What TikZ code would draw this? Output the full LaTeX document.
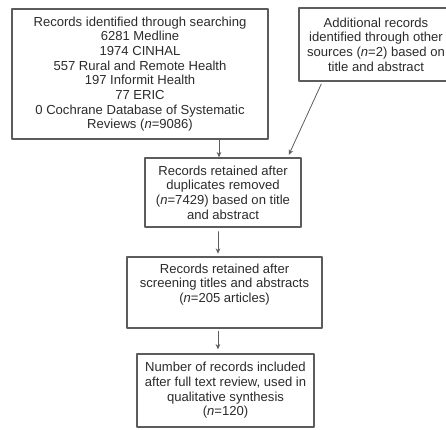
\documentclass[tikz,border=0pt]{standalone}
\usepackage{fontspec}
\setmainfont{Liberation Sans}
\usetikzlibrary{arrows.meta}
\definecolor{boxgray}{HTML}{5C5C5C}
\definecolor{txtgray}{HTML}{2B2B2B}

\begin{document}
\begin{tikzpicture}[x=0.75pt,y=-0.75pt,line cap=round,line join=round,
    box/.style={draw=boxgray,line width=1pt,align=center,inner sep=0pt,text=txtgray,
      font=\fontsize{9.8}{11}\selectfont},
    arr/.style={draw=boxgray,line width=0.6pt,-{Stealth[length=4pt,width=3.5pt]}}]
  \useasboundingbox (0,0) rectangle (446,429);
  \clip (0,0) rectangle (446,429);
  \node[box,minimum width=192pt,minimum height=97.5pt] (search) at (140,74)
    {Records identified through searching\\6281 Medline\\1974 CINHAL\\557 Rural and Remote Health\\
     197 Informit Health\\77 ERIC\\0 Cochrane Database of Systematic\\Reviews (\textit{n}=9086)};
  \node[box,minimum width=115.5pt,minimum height=54.75pt] (other) at (376,44.5)
    {Additional records\\identified through other\\sources (\textit{n}=2) based on\\title and abstract};
  \node[box,minimum width=117pt,minimum height=51.75pt] (dupl) at (223,192.5)
    {Records retained after\\duplicates removed\\(\textit{n}=7429) based on title\\and abstract};
  \node[box,minimum width=146.25pt,minimum height=53.25pt,text depth=14pt] (screen) at (224.5,292.5)
    {Records retained after\\screening titles and abstracts\\(\textit{n}=205 articles)};
  \node[box,minimum width=132.75pt,minimum height=54.75pt] (incl) at (225.5,390.5)
    {Number of records included\\after full text review, used in\\qualitative synthesis\\(\textit{n}=120)};
  \draw[arr] ([xshift=-3pt]search.south -| dupl.north) -- ([xshift=-3pt]dupl.north);
  \draw[arr,shorten <=2pt,shorten >=2pt] ([xshift=18pt]other.south west) -- ([xshift=-10.5pt]dupl.north east);
  \draw[arr,shorten <=3pt,shorten >=2pt] ([xshift=-3.75pt]dupl.south) -- ([xshift=-3.75pt]dupl.south |- screen.north);
  \draw[arr,shorten <=2pt,shorten >=3pt] ([xshift=-4.9pt]screen.south) -- ([xshift=-4.9pt]screen.south |- incl.north);
\end{tikzpicture}
\end{document}
